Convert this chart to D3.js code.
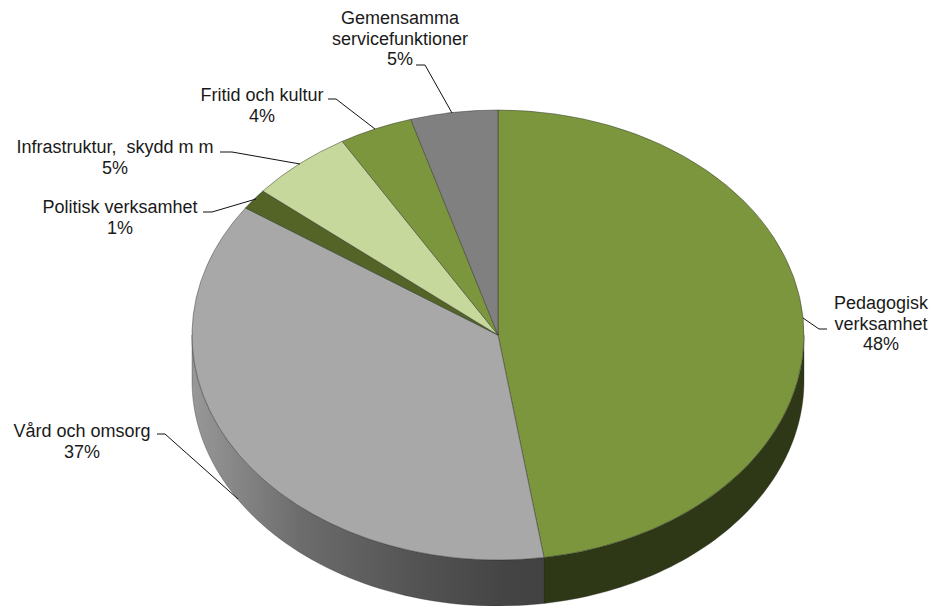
<!DOCTYPE html>
<html lang="sv">
<head>
<meta charset="utf-8">
<title>Kostnader per verksamhet</title>
<script src="https://cdn.jsdelivr.net/npm/d3@7"></script>
<style>
  html, body { margin: 0; padding: 0; background: #fff; }
  svg { display: block; }
  text { font-family: "Liberation Sans", Arial, sans-serif; font-size: 18px; fill: #1a1a1a; }
</style>
</head>
<body>
<svg id="chart" width="932" height="606"></svg>
<script>
// Data (slices run clockwise from 12 o'clock)
// "|" marks where a category name wraps in its label
const categories = ['Pedagogisk|verksamhet', 'Vård och omsorg', 'Politisk verksamhet', 'Infrastruktur,  skydd m m', 'Fritid och kultur', 'Gemensamma|servicefunktioner'];
const shares = [47.6, 36.95, 1.5, 5.45, 3.9, 4.6];
const shareLabels = ['48%', '37%', '1%', '5%', '4%', '5%'];

// Colours, same order as the categories
const topColors = ['#7c963e', '#a8a8a8', '#546427', '#c6d89c', '#7c963e', '#808080'];

// Label layout, same order: text centre, first baseline, leader line
const labelLayout = [
  { x: 881, y: 309, leader: [[803, 318], [819, 329], [827, 329]] },
  { x: 82, y: 437, leader: [[157, 434], [165, 434], [238, 499]] },
  { x: 120, y: 213, leader: [[203, 212], [212, 212], [256, 199]] },
  { x: 115, y: 153, leader: [[220, 152], [232, 152], [300, 164]] },
  { x: 262, y: 101, leader: [[328, 99], [336, 99], [375, 129]] },
  { x: 400, y: 24, leader: [[416, 65], [425, 65], [452, 113]] }
];

const cx = 498, cy = 335, rx = 306, ry = 225, depth = 46, lineHeight = 20.5;

const svg = d3.select('#chart');

// Side wall shading
const defs = svg.append('defs');
const wallGrad = defs.append('linearGradient')
  .attr('id', 'wall-grey')
  .attr('gradientUnits', 'userSpaceOnUse')
  .attr('x1', cx - rx).attr('x2', cx + 46).attr('y1', 0).attr('y2', 0);
wallGrad.append('stop').attr('offset', 0).attr('stop-color', '#989898');
wallGrad.append('stop').attr('offset', 0.31).attr('stop-color', '#6c6c6c');
wallGrad.append('stop').attr('offset', 0.64).attr('stop-color', '#535353');
wallGrad.append('stop').attr('offset', 0.9).attr('stop-color', '#444444');
wallGrad.append('stop').attr('offset', 1).attr('stop-color', '#424242');

const slices = d3.pie().sort(null).value(d => d)(shares);

// Point on the tilted rim, angle is clockwise from 12 o'clock
const rimX = a => cx + rx * Math.sin(a);
const rimY = a => cy - ry * Math.cos(a);

// Only the front half of the rim shows a wall
const frontFrom = Math.PI / 2, frontTo = Math.PI * 3 / 2;

function wallPath(a0, a1) {
  const from = Math.max(a0, frontFrom), to = Math.min(a1, frontTo);
  if (to <= from) return null;
  const angles = d3.range(0, 61).map(i => from + (to - from) * i / 60);
  const top = angles.map(a => [rimX(a), rimY(a)]);
  const bottom = angles.slice().reverse().map(a => [rimX(a), rimY(a) + depth]);
  return d3.line()(top.concat(bottom)) + 'Z';
}

const wallColors = ['#2f3816', 'url(#wall-grey)'];
svg.append('g').selectAll('path')
  .data(slices.filter(d => wallPath(d.startAngle, d.endAngle)))
  .enter().append('path')
  .attr('d', d => wallPath(d.startAngle, d.endAngle))
  .attr('fill', d => wallColors[d.index])
  .attr('stroke', '#222')
  .attr('stroke-opacity', 0.45)
  .attr('stroke-width', 0.7);

// Top face: a flat pie squashed into an ellipse
const arc = d3.arc().innerRadius(0).outerRadius(rx);
svg.append('g')
  .attr('transform', `translate(${cx},${cy}) scale(1,${ry / rx})`)
  .selectAll('path')
  .data(slices)
  .enter().append('path')
  .attr('d', arc)
  .attr('fill', d => topColors[d.index])
  .attr('stroke', '#2b2b2b')
  .attr('stroke-opacity', 0.55)
  .attr('stroke-width', 0.8)
  .attr('vector-effect', 'non-scaling-stroke');

// Leader lines
svg.append('g').selectAll('path')
  .data(labelLayout)
  .enter().append('path')
  .attr('d', d => d3.line()(d.leader))
  .attr('fill', 'none')
  .attr('stroke', '#111')
  .attr('stroke-width', 1);

// Labels
const labels = svg.append('g').selectAll('text')
  .data(categories)
  .enter().append('text')
  .attr('text-anchor', 'middle')
  .style('white-space', 'pre');
labels.selectAll('tspan')
  .data((name, k) => name.split('|').concat(shareLabels[k]).map((line, i) => ({ line, i, pos: labelLayout[k] })))
  .enter().append('tspan')
  .attr('x', d => d.pos.x)
  .attr('y', d => d.pos.y + d.i * lineHeight)
  .text(d => d.line);
</script>
</body>
</html>
